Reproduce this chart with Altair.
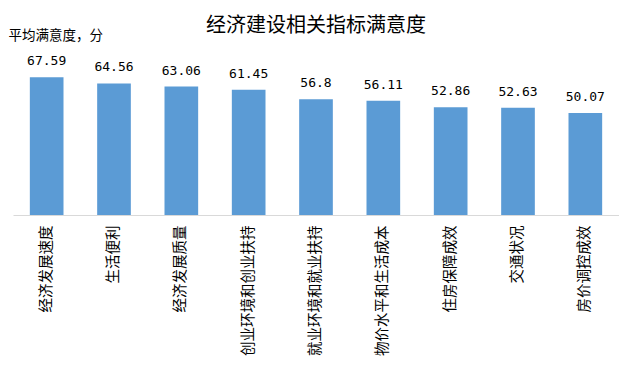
import altair as alt
import pandas as pd

categories = ["经济发展速度", "生活便利", "经济发展质量", "创业环境和创业扶持", "就业环境和就业扶持",
              "物价水平和生活成本", "住房保障成效", "交通状况", "房价调控成效"]
values = [67.59, 64.56, 63.06, 61.45, 56.8, 56.11, 52.86, 52.63, 50.07]
labels = ["67.59", "64.56", "63.06", "61.45", "56.8", "56.11", "52.86", "52.63", "50.07"]

df = pd.DataFrame({"cat": categories, "val": values, "lab": labels})

FONT = "Noto Sans CJK SC"

x = alt.X("cat:N", sort=categories,
          scale=alt.Scale(paddingInner=0.5, paddingOuter=0.25),
          axis=alt.Axis(title=None, labelAngle=-90, ticks=False, domainColor="#d9d9d9",
                        labelFont=FONT, labelFontSize=14.5, labelColor="#000000",
                        labelPadding=10, labelLimit=300))
y = alt.Y("val:Q", scale=alt.Scale(domain=[0, 80]),
          axis=alt.Axis(title="平均满意度，分", labels=False, ticks=False, domain=False, grid=False,
                        titleAngle=0, titleAlign="left", titleBaseline="middle",
                        titleX=-5, titleY=-17, titleFont=FONT, titleFontSize=13.5,
                        titleFontWeight="normal", titleColor="#000000"))

bars = alt.Chart(df).mark_bar(color="#5B9BD5").encode(x=x, y=y)
text = alt.Chart(df).mark_text(font="DejaVu Sans Mono", fontSize=13, baseline="alphabetic",
                               dy=-12, color="#000000").encode(x=alt.X("cat:N", sort=categories),
                                                               y="val:Q", text="lab:N")

chart = (bars + text).properties(
    width=606, height=163,
    autosize=alt.AutoSizeParams(type="none"),
    padding={"left": 5, "top": 44, "right": 0, "bottom": 143},
    title=alt.TitleParams("经济建设相关指标满意度", font=FONT, fontSize=20, fontWeight="normal",
                          color="#000000", anchor="middle", dy=12),
).configure_view(stroke=None)

chart.save("out.html", embed_options={"renderer": "svg", "actions": False})
